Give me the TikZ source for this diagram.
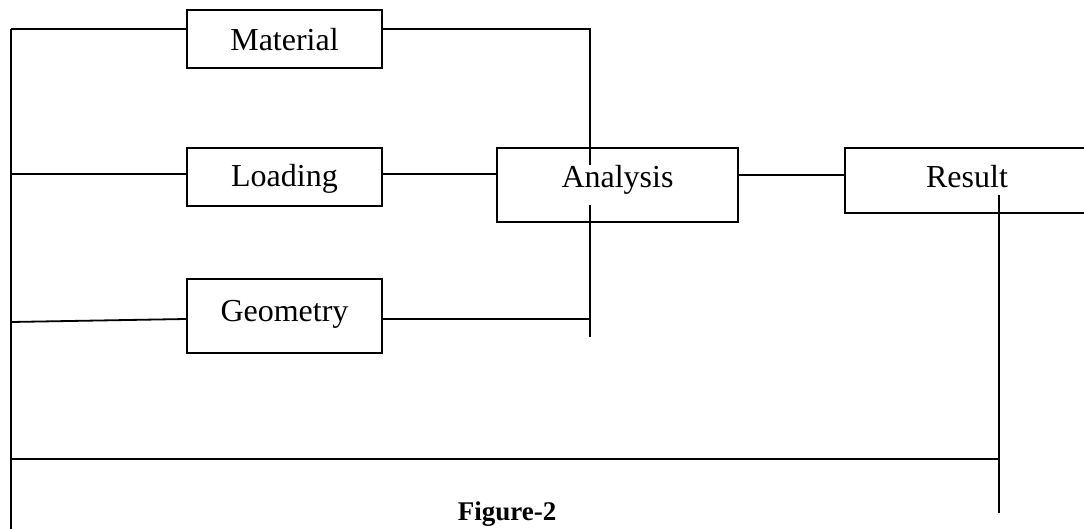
\documentclass[tikz,border=0pt]{standalone}
\usepackage{fontspec}
\setmainfont{Liberation Serif}
\begin{document}
\begin{tikzpicture}[x=1pt,y=-1pt,line width=1.8pt,
  box/.style={draw,rectangle,inner sep=0pt,line width=1.8pt},
  lbl/.style={anchor=base,inner sep=0pt,font=\fontsize{32}{38}\selectfont},
  figcaption/.style={anchor=base,inner sep=0pt,font=\bfseries\fontsize{27}{32}\selectfont}]
\useasboundingbox (0,0) rectangle (1084,529);
\begin{scope}
\clip (0,0) rectangle (1084,529);
% boxes
\node[box,minimum width=195pt,minimum height=58pt] (mat)  at (284.5,39) {};
\node[box,minimum width=195pt,minimum height=58pt] (load) at (284.5,177) {};
\node[box,minimum width=195pt,minimum height=74pt] (geo)  at (284.5,316) {};
\node[box,minimum width=241pt,minimum height=74pt] (ana)  at (617.5,185) {};
\node[box,minimum width=244pt,minimum height=65pt] (res)  at (967,180.5) {};
% labels
\node[lbl] (matT)  at (284.5,51)  {Material};
\node[lbl] (loadT) at (284.5,187) {Loading};
\node[lbl] (geoT)  at (284.5,321) {Geometry};
\node[lbl] (anaT)  at (617.5,188) {Analysis};
\node[lbl] (resT)  at (967,188)   {Result};
\node[figcaption] (fig) at (507,520) {Figure-2};
% junction coordinates
\coordinate (l1) at (11,29);
\coordinate (l2) at (11,174);
\coordinate (l3) at (11,322);
\coordinate (lbot) at (11,529);
\coordinate (j1) at (590,29);
\coordinate (j2) at (590,165);
\coordinate (j3) at (590,205);
\coordinate (j4) at (590,337);
\coordinate (gy) at (0,319);
\coordinate (g1) at (590,319);
\coordinate (ay) at (0,175);
\coordinate (r1) at (999,195);
\coordinate (r2) at (999,459);
\coordinate (r3) at (999,513);
\coordinate (h1) at (11,459);
% connectors
\draw (l1) -- (lbot);
\draw (l1) -- (l1 -| mat.west);
\draw (mat.east |- l1) -- (j1) -- (j2);
\draw (j3) -- (j4);
\draw (l2) -- (l2 -| load.west);
\draw (load.east |- l2) -- (l2 -| ana.west);
\draw (ana.east |- ay) -- (res.west |- ay);
\draw (l3) -- (geo.west |- gy);
\draw (geo.east |- gy) -- (g1);
\draw (h1) -- (r2);
\draw (r1) -- (r3);
\end{scope}
\end{tikzpicture}
\end{document}
